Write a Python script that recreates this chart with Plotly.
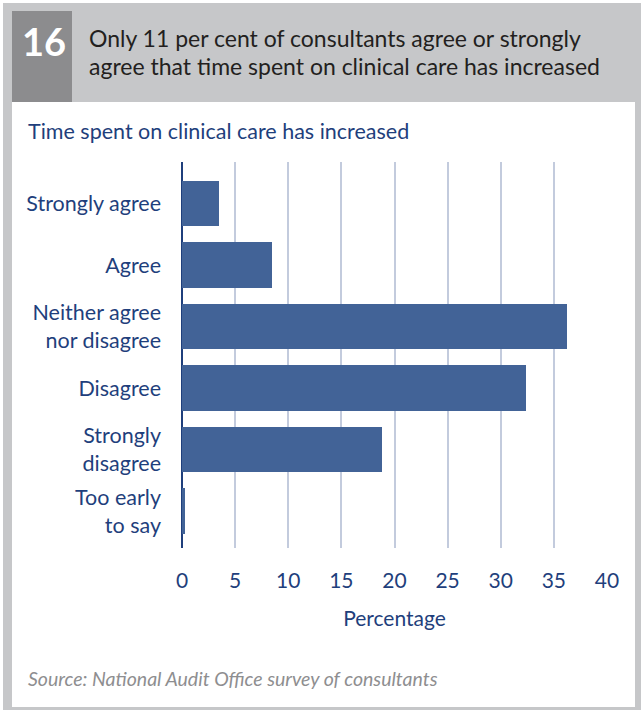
import plotly.graph_objects as go

# Survey responses: time spent on clinical care has increased
categories = [
    "Strongly agree",
    "Agree",
    "Neither agree<br>nor disagree",
    "Disagree",
    "Strongly<br>disagree",
    "Too early<br>to say",
]
percentages = [3.5, 8.5, 36.2, 32.4, 18.8, 0.3]
x_ticks = [0, 5, 10, 15, 20, 25, 30, 35, 40]

fig_number = "16"
title_lines = [
    "Only 11 per cent of consultants agree or strongly",
    "agree that time spent on clinical care has increased",
]
subtitle = "Time spent on clinical care has increased"
x_title = "Percentage"
source = "Source: National Audit Office survey of consultants"

NAVY = "#1f3f7c"
BAR = "#426397"
GRID = "#c3cbdd"
FRAME = "#c6c7c9"
NUMBOX = "#8c8c8e"
FONT = "Lato"

W, H = 641, 710
L, R, T, B = 182, 34, 162, 162
PW, PH = W - L - R, H - T - B


def px(x):
    return (x - L) / PW


def py(y):
    return (H - B - y) / PH


fig = go.Figure(
    go.Bar(
        x=percentages,
        y=list(range(len(categories))),
        orientation="h",
        marker=dict(color=BAR, line=dict(width=0)),
        width=0.74,
        hoverinfo="skip",
    )
)

shapes = [
    # outer grey frame
    dict(type="rect", xref="paper", yref="paper", x0=px(3), x1=px(641),
         y0=py(710), y1=py(3), fillcolor=FRAME, line=dict(width=0), layer="below"),
    # white panel
    dict(type="rect", xref="paper", yref="paper", x0=px(12), x1=px(635),
         y0=py(707), y1=py(102), fillcolor="white", line=dict(width=0), layer="below"),
    # figure number box
    dict(type="rect", xref="paper", yref="paper", x0=px(12), x1=px(72),
         y0=py(102), y1=py(11), fillcolor=NUMBOX, line=dict(width=0), layer="below"),
]

annotations = [
    dict(text=f"<b>{fig_number}</b>", xref="paper", yref="paper", x=px(44), y=py(41),
         xanchor="center", yanchor="middle", showarrow=False,
         font=dict(family=FONT, size=38, color="white")),
    dict(text=title_lines[0], xref="paper", yref="paper", x=px(87), y=py(38),
         xanchor="left", yanchor="middle", showarrow=False,
         font=dict(family=FONT, size=23, color="#231f20")),
    dict(text=title_lines[1], xref="paper", yref="paper", x=px(87), y=py(66),
         xanchor="left", yanchor="middle", showarrow=False,
         font=dict(family=FONT, size=23, color="#231f20")),
    dict(text=subtitle, xref="paper", yref="paper", x=px(26), y=py(131),
         xanchor="left", yanchor="middle", showarrow=False,
         font=dict(family=FONT, size=21.5, color=NAVY)),
    dict(text=f"<i>{source}</i>", xref="paper", yref="paper", x=px(26), y=py(678),
         xanchor="left", yanchor="middle", showarrow=False,
         font=dict(family=FONT, size=19.5, color="#8e8e90")),
]

fig.update_layout(
    width=W, height=H,
    margin=dict(l=L, r=R, t=T, b=B, pad=0),
    paper_bgcolor="white",
    plot_bgcolor="rgba(0,0,0,0)",
    showlegend=False,
    bargap=0,
    shapes=shapes,
    annotations=annotations,
    xaxis=dict(
        range=[0, 40], tickvals=x_ticks, ticktext=[str(v) for v in x_ticks],
        showgrid=True, gridcolor=GRID, gridwidth=1.5,
        zeroline=True, zerolinecolor=NAVY, zerolinewidth=2,
        showline=False, ticks="", ticklabelstandoff=18,
        tickfont=dict(family=FONT, size=21, color=NAVY),
        title=dict(text=x_title, standoff=20,
                   font=dict(family=FONT, size=21, color=NAVY)),
        fixedrange=True,
    ),
    yaxis=dict(
        range=[5.6, -0.674],
        tickvals=list(range(len(categories))), ticktext=categories,
        showgrid=False, zeroline=False, showline=False, ticks="",
        ticklabelstandoff=20,
        tickfont=dict(family=FONT, size=21.5, color=NAVY),
        fixedrange=True,
    ),
)

fig.write_html("out.html", config=dict(displayModeBar=False))
